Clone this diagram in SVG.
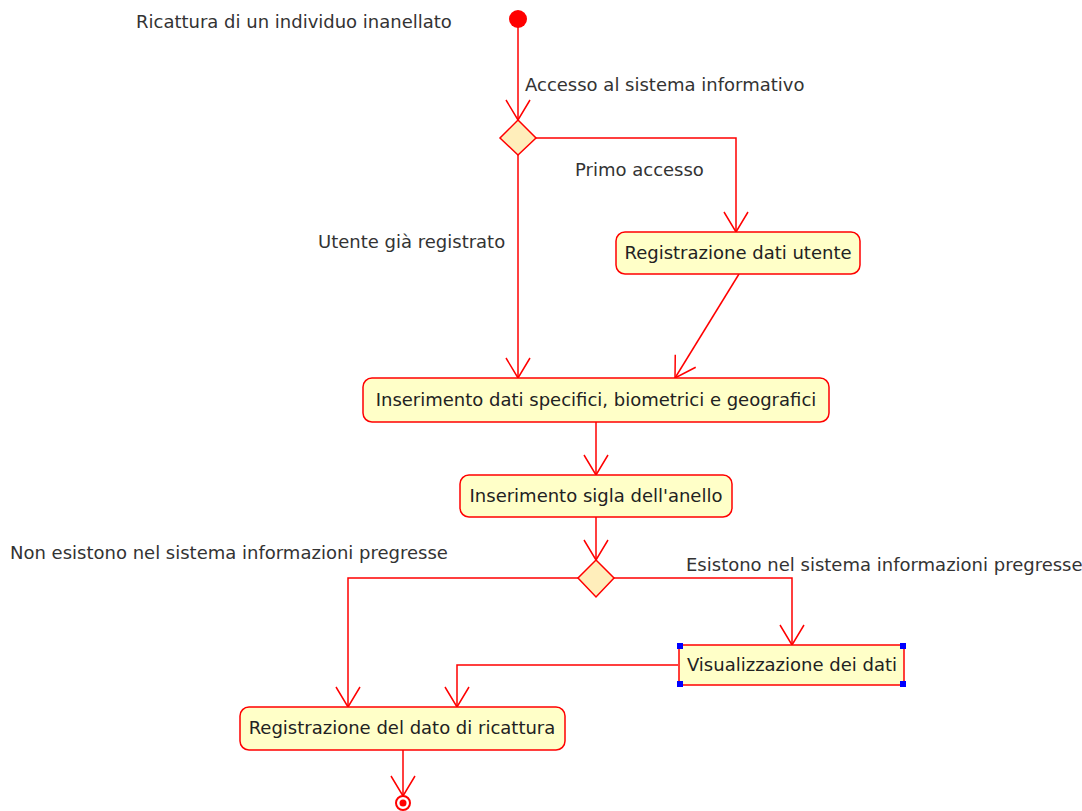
<svg xmlns="http://www.w3.org/2000/svg" width="1082" height="811" viewBox="0 0 1082 811">
<style>
.act{fill:#ffffc8;stroke:#ff0000;stroke-width:1.5}
.dec{fill:#ffeebb;stroke:#ff0000;stroke-width:1.5}
.t{font-family:"DejaVu Sans",sans-serif;font-size:18px;fill:#222}
.lbl{font-family:"DejaVu Sans",sans-serif;font-size:18px;fill:#333}
.c{fill:none;stroke:#ff0000;stroke-width:1.5}
.h{fill:#0000ff}
</style>
<defs>
<marker id="arr" markerUnits="userSpaceOnUse" markerWidth="24" markerHeight="26" refX="20" refY="12" orient="auto" overflow="visible">
<path d="M0,0 L20,12 L0,24" fill="none" stroke="#ff0000" stroke-width="1.5"/>
</marker>
</defs>
<rect width="1082" height="811" fill="#ffffff"/>
<g id="connectors">
<line class="c" x1="518" y1="19" x2="518" y2="120" marker-end="url(#arr)"/>
<polyline class="c" points="536,138 736,138 736,232" marker-end="url(#arr)"/>
<line class="c" x1="518" y1="155" x2="518" y2="378" marker-end="url(#arr)"/>
<line class="c" x1="739" y1="274" x2="675" y2="378" marker-end="url(#arr)"/>
<line class="c" x1="596" y1="422" x2="596" y2="475" marker-end="url(#arr)"/>
<line class="c" x1="596" y1="517" x2="596" y2="560" marker-end="url(#arr)"/>
<polyline class="c" points="578,578 348,578 348,707" marker-end="url(#arr)"/>
<polyline class="c" points="613,578 792,578 792,645" marker-end="url(#arr)"/>
<polyline class="c" points="678,665 457,665 457,707" marker-end="url(#arr)"/>
<line class="c" x1="403" y1="750" x2="403" y2="796" marker-end="url(#arr)"/>
</g>
<g id="start">
<circle cx="518" cy="19" r="9" fill="#ff0000"/>
<text class="lbl" x="136" y="28">Ricattura di un individuo inanellato</text>
</g>
<g id="decision1">
<polygon class="dec" points="518,120 536,138 518,155 500,138"/>
<text class="lbl" x="525" y="91">Accesso al sistema informativo</text>
<text class="lbl" x="575" y="176">Primo accesso</text>
<text class="lbl" x="318" y="248">Utente già registrato</text>
</g>
<g id="registrazioneUtente">
<rect class="act" x="616" y="232" width="244" height="42" rx="9"/>
<text class="t" x="738" y="259" text-anchor="middle">Registrazione dati utente</text>
</g>
<g id="inserimentoDati">
<rect class="act" x="363" y="378" width="466" height="44" rx="9"/>
<text class="t" x="596" y="406" text-anchor="middle">Inserimento dati specifici, biometrici e geografici</text>
</g>
<g id="inserimentoSigla">
<rect class="act" x="460" y="475" width="272" height="42" rx="9"/>
<text class="t" x="596" y="502" text-anchor="middle">Inserimento sigla dell'anello</text>
</g>
<g id="decision2">
<polygon class="dec" points="596,560 614,578 596,597 578,578"/>
<text class="lbl" x="10" y="559">Non esistono nel sistema informazioni pregresse</text>
<text class="lbl" x="686" y="571">Esistono nel sistema informazioni pregresse</text>
</g>
<g id="visualizzazione">
<rect class="act" x="679" y="645" width="225" height="40"/>
<text class="t" x="792" y="671" text-anchor="middle">Visualizzazione dei dati</text>
<rect class="h" x="677" y="643" width="6" height="6"/>
<rect class="h" x="900" y="643" width="6" height="6"/>
<rect class="h" x="677" y="681" width="6" height="6"/>
<rect class="h" x="900" y="681" width="6" height="6"/>
</g>
<g id="registrazioneRicattura">
<rect class="act" x="240" y="707" width="325" height="43" rx="9"/>
<text class="t" x="402" y="734" text-anchor="middle">Registrazione del dato di ricattura</text>
</g>
<g id="end">
<circle cx="403" cy="803" r="7" fill="#ffffff" stroke="#ff0000" stroke-width="2"/>
<circle cx="403" cy="803" r="3.5" fill="#ff0000"/>
</g>
</svg>
